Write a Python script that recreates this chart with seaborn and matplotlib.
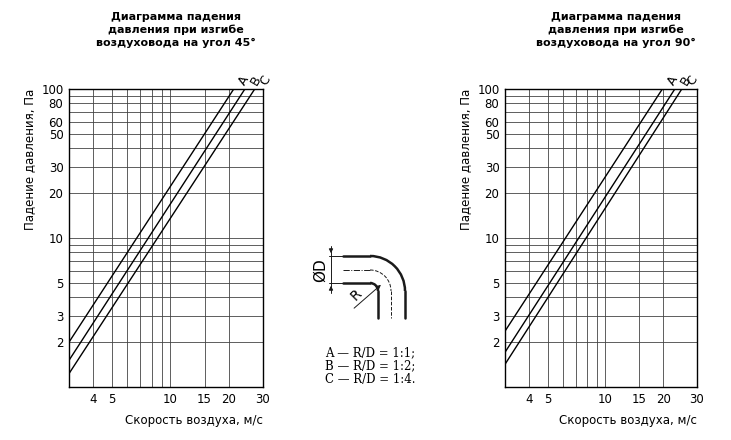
import numpy as np
import matplotlib
matplotlib.use("Agg")
import matplotlib.pyplot as plt
import seaborn as sns
import pandas as pd
from matplotlib.patches import Arc

sns.set_theme(style="white")
plt.rcParams['font.family'] = ['DejaVu Sans']
plt.rcParams['text.color'] = 'black'
plt.rcParams['axes.labelcolor'] = 'black'
plt.rcParams['xtick.color'] = 'black'
plt.rcParams['ytick.color'] = 'black'

# data: endpoints of each (quadratic) curve, velocity m/s -> pressure Pa
curves = ["A", "B", "C"]
v45_start = [3, 3, 3];        p45_start = [2.0, 1.51, 1.23]
v45_end = [21.2, 24.2, 27.2]; p45_end = [100, 100, 100]
v90_start = [3, 3, 3];        p90_start = [2.37, 1.71, 1.42]
v90_end = [19.8, 23.0, 25.0]; p90_end = [100, 100, 100]

xticks = [4, 5, 10, 15, 20, 30]
yticks = [2, 3, 5, 10, 20, 30, 50, 60, 80, 100]
xgrid = [4, 5, 6, 7, 8, 9, 10, 15, 20]
ygrid = [2, 3, 4, 5, 6, 7, 8, 9, 10, 20, 30, 40, 50, 60, 70, 80, 90]
titles = ["Диаграмма падения\nдавления при изгибе\nвоздуховода на угол 45°",
          "Диаграмма падения\nдавления при изгибе\nвоздуховода на угол 90°"]

fig = plt.figure(figsize=(7.31, 4.4), dpi=100)
W, H = 731, 440

def mkax(x0, x1, y0=89, y1=387):
    return fig.add_axes([x0 / W, 1 - y1 / H, (x1 - x0) / W, (y1 - y0) / H])

def draw(ax, vs, ps, ve, pe, title, tx):
    rows = []
    for c, a, b, d, e in zip(curves, vs, ps, ve, pe):
        rows += [dict(curve=c, v=a, p=b), dict(curve=c, v=d, p=e)]
    df = pd.DataFrame(rows)
    sns.lineplot(data=df, x="v", y="p", units="curve", estimator=None,
                 color="black", lw=1.0, ax=ax)
    ax.set_xscale("log"); ax.set_yscale("log")
    ax.set_xlim(3, 30); ax.set_ylim(1.0, 100)
    for g in xgrid:
        ax.axvline(g, color="#444", lw=0.6, zorder=0)
    for g in ygrid:
        ax.axhline(g, color="#444", lw=0.6, zorder=0)
    ax.set_xticks(xticks); ax.set_xticklabels([str(t) for t in xticks])
    ax.set_yticks(yticks); ax.set_yticklabels([str(t) for t in yticks])
    ax.minorticks_off()
    ax.tick_params(labelsize=8.5, length=0, pad=4)
    for s in ax.spines.values():
        s.set_color("black"); s.set_linewidth(1.0)
    ax.set_xlabel("Скорость воздуха, м/с", fontsize=8.5, loc="right", labelpad=6)
    ax.set_ylabel("Падение давления, Па", fontsize=8.5, loc="top")
    for c, d in zip(curves, ve):
        ax.annotate(c, (d, 100), xytext=(2, 1), textcoords="offset points",
                    rotation=60, fontsize=9, ha="left", va="bottom",
                    annotation_clip=False)
    fig.text(tx / W, 1 - 12 / H, title, ha="center", va="top",
             fontsize=8, fontweight="bold", linespacing=1.3)

ax1 = mkax(69, 263)
draw(ax1, v45_start, p45_start, v45_end, p45_end, titles[0], 176)
ax2 = mkax(505, 697)
draw(ax2, v90_start, p90_start, v90_end, p90_end, titles[1], 616)

# bend diagram (pixel coordinates, y down)
d = fig.add_axes([0, 0, 1, 1]); d.set_xlim(0, W); d.set_ylim(H, 0); d.axis("off")
cx, cy = 370, 291
d.plot([343, cx], [256, 256], color="k", lw=1.8)
d.add_patch(Arc((cx, cy), 70, 70, theta1=270, theta2=360, color="k", lw=1.8))
d.plot([405, 405], [cy, 318], color="k", lw=1.8)
d.plot([343, cx], [283, 283], color="k", lw=1.8)
d.add_patch(Arc((cx, cy), 16, 16, theta1=270, theta2=360, color="k", lw=1.8))
d.plot([378, 378], [cy, 318], color="k", lw=1.8)
d.plot([343, cx], [270, 270], color="k", lw=0.7, ls="-.")
d.add_patch(Arc((cx, cy), 42, 42, theta1=270, theta2=360, color="k", lw=0.7, ls="--"))
d.plot([391, 391], [cy, 318], color="k", lw=0.7, ls="--")
d.plot([331, 331], [246, 293], color="k", lw=0.7)
d.plot([329, 343], [256, 256], color="k", lw=0.7)
d.plot([329, 343], [283, 283], color="k", lw=0.7)
d.annotate("", (331, 256), (331, 246), arrowprops=dict(arrowstyle="-|>", color="k", lw=0.7, mutation_scale=6))
d.annotate("", (331, 283), (331, 293), arrowprops=dict(arrowstyle="-|>", color="k", lw=0.7, mutation_scale=6))
d.text(320, 270, "ØD", rotation=90, ha="center", va="center", fontsize=11)
d.annotate("", (383, 283), (352, 310), arrowprops=dict(arrowstyle="-|>", color="k", lw=0.7, mutation_scale=7))
d.text(356, 295, "R", rotation=45, ha="center", va="center", fontsize=10)
d.text(325, 366, "A — R/D = 1:1;\nB — R/D = 1:2;\nC — R/D = 1:4.", family="DejaVu Serif",
       ha="left", va="center", fontsize=8.5, linespacing=1.0)

fig.savefig("out.png", dpi=100)
